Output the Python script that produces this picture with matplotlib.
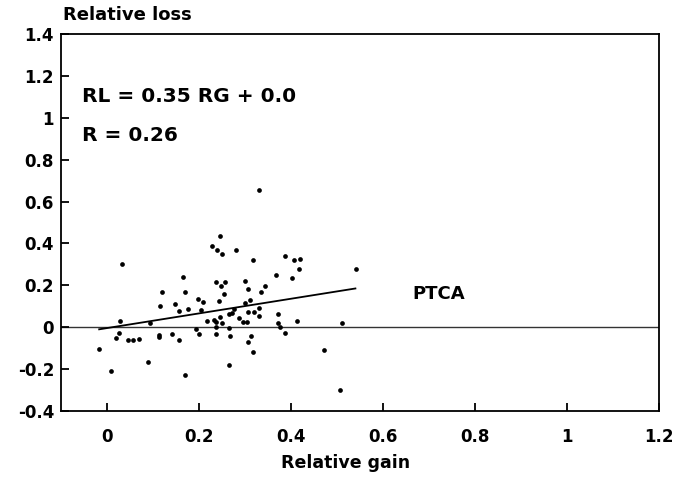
import matplotlib
matplotlib.use("Agg")
import matplotlib.pyplot as plt

# scatter: relative gain (x) vs relative loss (y)
gain = [0.033, 0.12, 0.116, 0.148, 0.157, 0.029, 0.093, 0.228, 0.24, 0.25,
        0.28, 0.317, 0.367, 0.165, 0.169, 0.237, 0.247, 0.256, 0.254, 0.30,
        0.307, 0.344, 0.335, 0.197, 0.209, 0.243, 0.311, 0.30, 0.177, 0.204,
        0.276, 0.266, 0.271, 0.307, 0.32, 0.331, 0.331, 0.286, 0.246, 0.218,
        0.233, 0.237, 0.25, 0.296, 0.304, 0.372, 0.371, 0.193, 0.266, 0.238,
        0.388, 0.407, 0.42, 0.418, 0.402, 0.541, 0.414, 0.51, 0.025, 0.02,
        0.046, 0.057, 0.07, 0.112, 0.112, 0.141, 0.157, -0.017, 0.09, 0.008,
        0.2, 0.238, 0.267, 0.314, 0.307, 0.317, 0.265, 0.17, 0.375, 0.388,
        0.471, 0.507, 0.33, 0.246]
loss = [0.30, 0.17, 0.10, 0.113, 0.078, 0.03, 0.02, 0.39, 0.37, 0.35,
        0.37, 0.32, 0.25, 0.24, 0.167, 0.215, 0.196, 0.215, 0.158, 0.22,
        0.183, 0.196, 0.17, 0.135, 0.12, 0.126, 0.132, 0.116, 0.085, 0.08,
        0.085, 0.062, 0.068, 0.072, 0.075, 0.094, 0.052, 0.046, 0.049, 0.03,
        0.033, 0.024, 0.02, 0.024, 0.024, 0.062, 0.02, -0.01, -0.005, 0.0,
        0.34, 0.32, 0.325, 0.28, 0.234, 0.277, 0.03, 0.02, -0.027, -0.053,
        -0.062, -0.059, -0.056, -0.037, -0.047, -0.033, -0.059, -0.104, -0.164, -0.21,
        -0.033, -0.03, -0.043, -0.04, -0.072, -0.12, -0.18, -0.23, 0.0, -0.027,
        -0.11, -0.30, 0.654, 0.437]

# regression line end points
fit_x = [-0.017, 0.54]
fit_y = [-0.01, 0.185]

xticks = [0, 0.2, 0.4, 0.6, 0.8, 1, 1.2]
xtick_labels = ['0', '0.2', '0.4', '0.6', '0.8', '1', '1.2']
yticks = [-0.4, -0.2, 0, 0.2, 0.4, 0.6, 0.8, 1, 1.2, 1.4]
ytick_labels = ['-0.4', '-0.2', '0', '0.2', '0.4', '0.6', '0.8', '1', '1.2', '1.4']

plt.rcParams['font.family'] = ['DejaVu Sans']
plt.rcParams['axes.unicode_minus'] = False

fig = plt.figure(figsize=(6.76, 4.82), dpi=100)
ax = fig.add_axes([61 / 676, 1 - 411 / 482, 598 / 676, 377 / 482])

ax.axhline(0, color='#333333', linewidth=1.0, zorder=1)
ax.plot(fit_x, fit_y, color='black', linewidth=1.3, zorder=2)
ax.plot(gain, loss, 'o', color='black', markersize=3.4, markeredgewidth=0, zorder=3)

ax.set_xlim(-0.1, 1.2)
ax.set_ylim(-0.4, 1.4)
ax.set_xticks(xticks)
ax.set_xticklabels(xtick_labels, fontsize=12, fontweight='bold')
ax.set_yticks(yticks)
ax.set_yticklabels(ytick_labels, fontsize=12, fontweight='bold')
ax.tick_params(direction='in', length=6, width=1.3)
ax.tick_params(axis='x', pad=12)
ax.tick_params(axis='y', pad=5)
for s in ax.spines.values():
    s.set_linewidth(1.3)

ax.text(-0.055, 1.1, 'RL = 0.35 RG + 0.0', fontsize=14.5, fontweight='bold', va='center')
ax.text(-0.055, 0.915, 'R = 0.26', fontsize=14.5, fontweight='bold', va='center')
ax.text(0.663, 0.16, 'PTCA', fontsize=13, fontweight='bold', va='center')

fig.text(63 / 676, 1 - 15 / 482, 'Relative loss', fontsize=13, fontweight='bold',
         ha='left', va='center')
fig.text(346 / 676, 1 - 463 / 482, 'Relative gain', fontsize=12.5, fontweight='bold',
         ha='center', va='center')

fig.savefig('out.png', dpi=100)
